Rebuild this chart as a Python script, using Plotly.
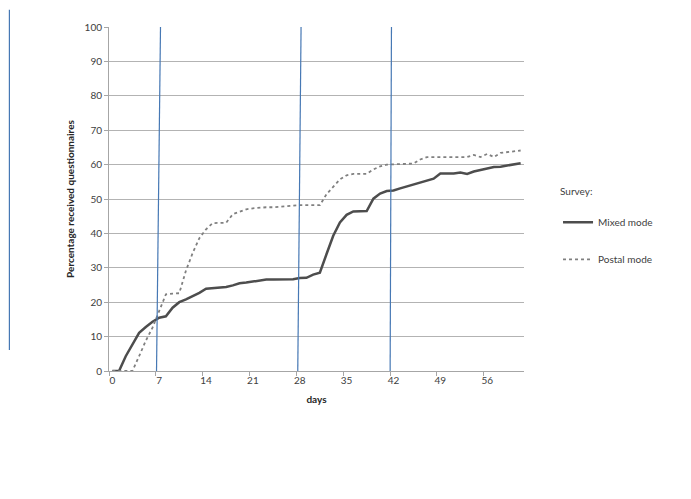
import plotly.graph_objects as go

# days since mailing (category axis 0..61)
days = list(range(62))

mixed_mode = [
    0, 0, 4.3, 7.6, 11.1, 12.8, 14.3, 15.5, 15.9, 18.4,
    20.0, 20.8, 21.7, 22.7, 23.9, 24.1, 24.3, 24.4, 24.9, 25.5,
    25.7, 26.0, 26.3, 26.6, 26.6, 26.6, 26.6, 26.7, 27.0, 27.1,
    28.0, 28.6, 34.0, 39.3, 43.2, 45.4, 46.4, 46.5, 46.5, 50.1,
    51.6, 52.3, 52.5, 53.1, 53.7, 54.2, 54.8, 55.3, 55.9, 57.4,
    57.4, 57.4, 57.7, 57.3, 58.0, 58.4, 58.7, 59.3, 59.4, 59.7,
    60.1, 60.4,
]

postal_mode = [
    0, 0, 0, 0, 4.3, 8.8, 12.6, 17.4, 22.3, 22.5,
    22.6, 29.2, 34.3, 38.6, 41.2, 43.0, 43.1, 43.1, 45.6, 46.4,
    47.0, 47.3, 47.5, 47.6, 47.6, 47.8, 47.8, 48.0, 48.2, 48.2,
    48.2, 48.2, 51.4, 53.6, 55.7, 56.9, 57.3, 57.3, 57.3, 58.6,
    59.5, 60.0, 60.1, 60.3, 60.3, 60.3, 61.5, 62.2, 62.2, 62.2,
    62.4, 62.4, 62.2, 62.2, 62.8, 62.2, 63.1, 62.2, 63.4, 63.6,
    63.8, 64.1,
]

x_ticks = [0, 7, 14, 21, 28, 35, 42, 49, 56]

# hand-drawn reminder lines (bottom / top day positions)
marker_bottom = [6.6, 27.7, 41.5]
marker_top = [7.2, 28.2, 41.7]

FONT = "Lato, 'Open Sans', sans-serif"
BLUE = "#4678b4"

fig = go.Figure()

fig.add_trace(
    go.Scatter(
        x=days,
        y=mixed_mode,
        mode="lines",
        name="Mixed mode",
        legendgroup="mixed",
        line=dict(color="#4d4d4d", width=2.5),
    )
)

fig.add_trace(
    go.Scatter(
        x=days,
        y=postal_mode,
        mode="lines",
        name="Postal mode",
        legendgroup="postal",
        line=dict(color="#808080", width=1.8, dash="dot"),
    )
)

for x0, x1 in zip(marker_bottom, marker_top):
    fig.add_shape(
        type="line", xref="x", yref="y",
        x0=x0, y0=0, x1=x1, y1=101,
        line=dict(color=BLUE, width=1.2),
    )

# stray line on the far left of the page
fig.add_shape(
    type="line", xref="paper", yref="paper",
    x0=-0.24, y0=1.05, x1=-0.24, y1=0.061,
    line=dict(color=BLUE, width=1.2),
)

fig.update_layout(
    width=683,
    height=491,
    plot_bgcolor="white",
    paper_bgcolor="white",
    font=dict(family=FONT, size=10, color="#404040"),
    margin=dict(l=101, r=167, t=17, b=128),
    showlegend=True,
    legend=dict(
        title=dict(text="Survey:<br>&nbsp;", font=dict(size=10, color="#404040")),
        x=1.082, xanchor="left",
        y=0.55, yanchor="top",
        tracegroupgap=18,
        itemwidth=30,
        font=dict(size=10, color="#404040"),
        bgcolor="rgba(0,0,0,0)",
    ),
    xaxis=dict(
        range=[-0.5, 61.5],
        tickmode="array",
        tickvals=x_ticks,
        ticktext=[str(t) for t in x_ticks],
        showgrid=False,
        showline=True,
        linecolor="#a6a6a6",
        linewidth=1,
        ticks="",
        minor=dict(ticks="outside", tick0=-0.5, dtick=7, ticklen=4, tickcolor="#a6a6a6", showgrid=False),
        zeroline=False,
        title=dict(text="<b>days</b>", font=dict(size=10, color="#262626"), standoff=10),
        tickfont=dict(size=10),
    ),
    yaxis=dict(
        range=[0, 100],
        dtick=10,
        showgrid=True,
        gridcolor="#b3b3b3",
        gridwidth=1,
        showline=True,
        linecolor="#a6a6a6",
        ticks="outside",
        ticklen=4,
        tickcolor="#a6a6a6",
        zeroline=False,
        title=dict(text="<b>Percentage received questionnaires</b>", font=dict(size=10, color="#262626"), standoff=8),
        tickfont=dict(size=10),
    ),
)

fig.write_html("out.html")
